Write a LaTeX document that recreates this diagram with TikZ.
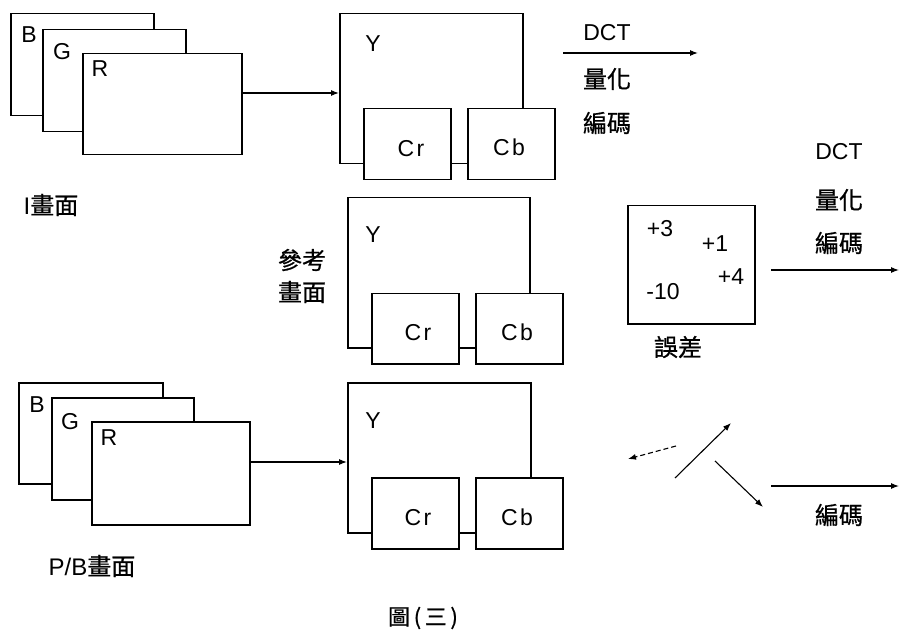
\documentclass[tikz,border=0pt]{standalone}
\usepackage{fontspec}
\setmainfont{Liberation Sans}
\newfontfamily\cjk[FakeBold=0.8]{Noto Sans CJK TC}
\usetikzlibrary{arrows.meta}
\begin{document}
\begin{tikzpicture}[x=1pt,y=-1pt,
 box/.style={draw,line width=1.5pt,fill=white,inner sep=0pt,anchor=north west},
 lbl/.style={inner sep=0pt,anchor=base,font=\fontsize{23}{23}\selectfont},
 cj/.style={inner sep=0pt,font=\fontsize{24}{24}\selectfont\cjk},
 arr/.style={line width=1.1pt,-{Latex[length=8pt,width=6pt]}}]
\useasboundingbox[fill=white] (0,0) rectangle (900,631);

% ---------- top: I picture ----------
\node[box,minimum width=143pt,minimum height=102pt] (B1) at (10,13) {};
\node[box,minimum width=143pt,minimum height=102pt] (G1) at (42,29) {};
\node[box,minimum width=159pt,minimum height=101pt] (R1) at (82,53) {};
\node[lbl] (tB1) at (29,43) {B};
\node[lbl] (tG1) at (62,60) {G};
\node[lbl] (tR1) at (100,77) {R};
\node[cj] (tI) at (51,205) {\fontspec{Liberation Sans}I\cjk 畫面};

\node[box,minimum width=183pt,minimum height=150pt] (Y1) at (339,13) {};
\node[box,minimum width=87pt,minimum height=71pt] (Cr1) at (363,108) {};
\node[box,minimum width=87pt,minimum height=71pt] (Cb1) at (467,108) {};
\node[lbl] (tY1) at (373,52) {Y};
\node[lbl] (tCr1) at (411,157) {C\hspace{2.5pt}r};
\node[lbl] (tCb1) at (509,156) {C\hspace{2.5pt}b};

\coordinate (a1s) at (241,93);
\coordinate (a1e) at (339,93);
\draw[arr] (a1s) -- (a1e);

\coordinate (d1s) at (563,53);
\coordinate (d1e) at (698,53);
\draw[arr] (d1s) -- (d1e);
\node[lbl] (tD1) at (607,41) {DCT};
\node[cj] (tQ1) at (607,79) {量化};
\node[cj] (tE1) at (607,123) {編碼};

% ---------- middle: reference ----------
\node[box,minimum width=182pt,minimum height=150pt] (Y2) at (347,197) {};
\node[box,minimum width=87pt,minimum height=70pt] (Cr2) at (371,293) {};
\node[box,minimum width=87pt,minimum height=70pt] (Cb2) at (475,293) {};
\node[lbl] (tY2) at (373,243) {Y};
\node[lbl] (tCr2) at (418,340) {C\hspace{2.5pt}r};
\node[lbl] (tCb2) at (517,340) {C\hspace{2.5pt}b};
\node[cj] (tRef1) at (302,260) {參考};
\node[cj] (tRef2) at (302,292) {畫面};

\node[box,minimum width=127pt,minimum height=118pt] (Err) at (627,205) {};
\node[lbl] (n1) at (660,237) {+3};
\node[lbl] (n2) at (715,252) {+1};
\node[lbl] (n3) at (731,285) {+4};
\node[lbl] (n4) at (663,300) {-10};
\node[cj] (tErr) at (678,347) {誤差};

\node[lbl] (tD2) at (839,160) {DCT};
\node[cj] (tQ2) at (839,200) {量化};
\node[cj] (tE2) at (839,243) {編碼};
\coordinate (d2s) at (771,270);
\coordinate (d2e) at (899,270);
\draw[arr] (d2s) -- (d2e);

% ---------- bottom: P/B picture ----------
\node[box,minimum width=144pt,minimum height=101pt] (B3) at (18,382) {};
\node[box,minimum width=142pt,minimum height=102pt] (G3) at (51,397) {};
\node[box,minimum width=158pt,minimum height=103pt] (R3) at (91,421) {};
\node[lbl] (tB3) at (37,412) {B};
\node[lbl] (tG3) at (70,429) {G};
\node[lbl] (tR3) at (109,445) {R};
\node[cj] (tPB) at (92,566) {\fontspec{Liberation Sans}P/B\cjk 畫面};

\node[box,minimum width=183pt,minimum height=150pt] (Y3) at (347,382) {};
\node[box,minimum width=87pt,minimum height=71pt] (Cr3) at (371,477) {};
\node[box,minimum width=87pt,minimum height=71pt] (Cb3) at (475,477) {};
\node[lbl] (tY3) at (373,428) {Y};
\node[lbl] (tCr3) at (418,525) {C\hspace{2.5pt}r};
\node[lbl] (tCb3) at (517,525) {C\hspace{2.5pt}b};

\coordinate (a3s) at (249,462);
\coordinate (a3e) at (347,462);
\draw[arr] (a3s) -- (a3e);

\coordinate (m1s) at (676,446);
\coordinate (m1e) at (628,459);
\draw[arr,dash pattern=on 5pt off 3pt] (m1s) -- (m1e);
\coordinate (m2s) at (675,478);
\coordinate (m2e) at (731,423);
\draw[arr] (m2s) -- (m2e);
\coordinate (m3s) at (715,461);
\coordinate (m3e) at (763,507);
\draw[arr] (m3s) -- (m3e);
\coordinate (d3s) at (771,486);
\coordinate (d3e) at (899,486);
\draw[arr] (d3s) -- (d3e);
\node[cj] (tE3) at (839,515) {編碼};

\node[cj,font=\fontsize{22}{22}\selectfont\cjk] (tFig) at (423,618) {圖\,(\,三\,)};
\end{tikzpicture}
\end{document}
